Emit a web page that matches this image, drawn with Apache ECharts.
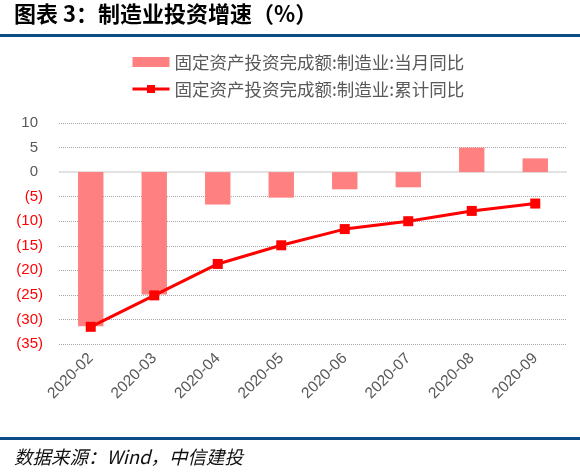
<!DOCTYPE html>
<html>
<head>
<meta charset="utf-8">
<script src="https://cdn.jsdelivr.net/npm/echarts@6/dist/echarts.min.js"></script>
<style>
html,body{margin:0;padding:0;background:#fff;}
#c{width:580px;height:474px;}
</style>
</head>
<body>
<div id="c"></div>
<script>
var categories = ['2020-02','2020-03','2020-04','2020-05','2020-06','2020-07','2020-08','2020-09'];
var monthlyYoY = [-31.4, -24.9, -6.6, -5.2, -3.5, -3.1, 5.0, 2.8];
var cumulativeYoY = [-31.5, -25.1, -18.7, -14.9, -11.6, -10.0, -7.9, -6.4];
var yTicks = { min: -35, max: 10, interval: 5 };
var nameMonthly = '固定资产投资完成额:制造业:当月同比';
var nameCumulative = '固定资产投资完成额:制造业:累计同比';

var tickCount = (yTicks.max - yTicks.min) / yTicks.interval + 1;
var splitColors = [];
for (var i = 0; i < tickCount; i++) {
  var v = yTicks.min + i * yTicks.interval;
  splitColors.push(v === 0 ? 'rgba(0,0,0,0)' : '#a6a6a6');
}

var chart = echarts.init(document.getElementById('c'), null, {renderer: 'canvas'});
chart.setOption({
  backgroundColor: '#fff',
  animation: false,
  textStyle: { fontFamily: 'Arial, "Liberation Sans", "Noto Sans CJK SC", sans-serif' },
  graphic: [
    { type: 'text', left: 14, top: 3, style: { text: '图表 3：制造业投资增速（%）', fontSize: 22, fontWeight: 'bold', fill: '#000', fontFamily: '"Noto Sans CJK SC", sans-serif' } },
    { type: 'rect', left: 0, top: 34, shape: { width: 580, height: 3 }, style: { fill: '#0B4E85' } },
    { type: 'rect', left: 0, top: 437, shape: { width: 580, height: 3 }, style: { fill: '#0B4E85' } },
    { type: 'text', left: 14, top: 448, style: { text: '数据来源：Wind，中信建投', fontSize: 18.5, fontStyle: 'italic', fill: '#111', fontFamily: '"Noto Sans CJK SC", sans-serif' } }
  ],
  legend: {
    orient: 'vertical',
    left: 126,
    top: 48,
    itemWidth: 37,
    itemHeight: 10,
    itemGap: 9,
    lineStyle: { width: 3 },
    textStyle: { fontSize: 17.5, color: '#595959', lineHeight: 18, fontFamily: '"Noto Sans CJK SC", sans-serif' },
    data: [
      { name: nameMonthly, icon: 'rect', itemStyle: { color: '#FF8080' } },
      { name: nameCumulative }
    ]
  },
  grid: { left: 59, right: 13, top: 123, bottom: 130, containLabel: false },
  xAxis: {
    type: 'category',
    data: categories,
    axisLine: { show: false, onZero: false },
    axisTick: { show: false },
    axisLabel: { rotate: 45, fontSize: 15.5, color: '#595959', margin: 12, interval: 0 }
  },
  yAxis: {
    type: 'value',
    min: yTicks.min,
    max: yTicks.max,
    interval: yTicks.interval,
    axisLine: { show: false },
    axisTick: { show: false },
    splitLine: { show: true, lineStyle: { type: 'dotted', color: splitColors, width: 1 } },
    axisLabel: {
      margin: 16,
      fontSize: 15,
      formatter: function (v) {
        if (v < 0) return '{neg|(' + (-v) + ')}';
        return '{pos|' + v + '}';
      },
      rich: {
        neg: { color: '#ff0000', fontSize: 15 },
        pos: { color: '#595959', fontSize: 15, padding: [0, 5, 0, 0] }
      }
    }
  },
  series: [
    {
      name: nameMonthly,
      type: 'bar',
      data: monthlyYoY,
      barWidth: '40%',
      itemStyle: { color: '#FF8080' },
      markLine: {
        silent: true,
        symbol: 'none',
        label: { show: false },
        lineStyle: { type: 'solid', color: '#d9d9d9', width: 1.5 },
        data: [{ yAxis: 0 }],
        z: 1
      }
    },
    {
      name: nameCumulative,
      type: 'line',
      data: cumulativeYoY,
      symbol: 'rect',
      symbolSize: 10,
      lineStyle: { color: '#ff0000', width: 3 },
      itemStyle: { color: '#ff0000' },
      z: 3
    }
  ]
});
</script>
</body>
</html>
